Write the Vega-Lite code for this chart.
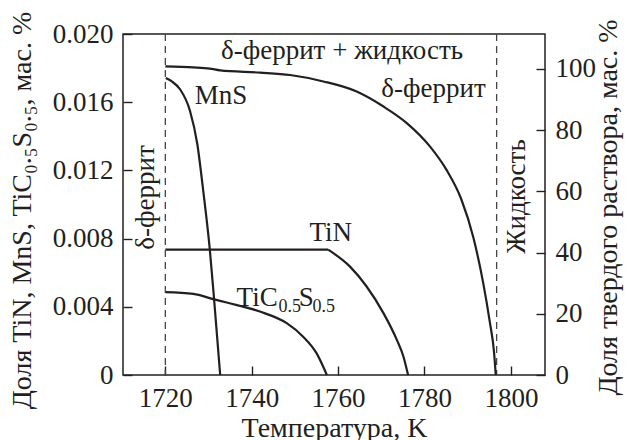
{
  "$schema": "https://vega.github.io/schema/vega-lite/v6.json",
  "width": 422,
  "height": 341,
  "autosize": "none",
  "padding": {"left": 123, "top": 34, "right": 82, "bottom": 65},
  "background": "white",
  "config": {
    "font": "'Liberation Serif', serif",
    "text": {"font": "'Liberation Serif', serif"},
    "view": {"stroke": "#231f20", "strokeWidth": 1.5},
    "axis": {
      "domain": false,
      "grid": false,
      "ticks": true,
      "zindex": 1,
      "tickColor": "#231f20",
      "tickWidth": 1.4,
      "tickSize": -9,
      "labelFont": "'Liberation Serif', serif",
      "labelFontSize": 27,
      "labelColor": "#231f20",
      "titleFont": "'Liberation Serif', serif",
      "titleFontSize": 28,
      "titleFontWeight": "normal",
      "titleColor": "#231f20"
    }
  },
  "datasets": {
    "curves": [
      {"series": "MnS", "T": 1720.1, "v": 0.01742},
      {"series": "MnS", "T": 1721.5, "v": 0.01722},
      {"series": "MnS", "T": 1723.4, "v": 0.01676},
      {"series": "MnS", "T": 1725.7, "v": 0.01550},
      {"series": "MnS", "T": 1727.4, "v": 0.01355},
      {"series": "MnS", "T": 1728.8, "v": 0.01075},
      {"series": "MnS", "T": 1730.3, "v": 0.00735},
      {"series": "MnS", "T": 1731.3, "v": 0.00441},
      {"series": "MnS", "T": 1732.7, "v": 0.0},
      {"series": "TiN flat", "T": 1720.0, "v": 0.00735},
      {"series": "TiN flat", "T": 1757.7, "v": 0.00735},
      {"series": "TiN", "T": 1757.7, "v": 0.00735},
      {"series": "TiN", "T": 1762.7, "v": 0.00637},
      {"series": "TiN", "T": 1766.6, "v": 0.00519},
      {"series": "TiN", "T": 1770.5, "v": 0.00363},
      {"series": "TiN", "T": 1773.6, "v": 0.00206},
      {"series": "TiN", "T": 1775.1, "v": 0.00110},
      {"series": "TiN", "T": 1776.2, "v": 0.0},
      {"series": "TiC", "T": 1720.0, "v": 0.00486},
      {"series": "TiC", "T": 1726.5, "v": 0.00476},
      {"series": "TiC", "T": 1731.1, "v": 0.00445},
      {"series": "TiC", "T": 1734.2, "v": 0.00425},
      {"series": "TiC", "T": 1741.9, "v": 0.00372},
      {"series": "TiC", "T": 1748.1, "v": 0.00304},
      {"series": "TiC", "T": 1751.9, "v": 0.00225},
      {"series": "TiC", "T": 1755.0, "v": 0.00128},
      {"series": "TiC", "T": 1757.4, "v": 0.0}
    ],
    "ferrite": [
      {"T": 1720.0, "p": 100.8},
      {"T": 1726.5, "p": 100.5},
      {"T": 1730.3, "p": 100.1},
      {"T": 1732.7, "p": 99.5},
      {"T": 1741.9, "p": 98.8},
      {"T": 1748.9, "p": 98.0},
      {"T": 1756.6, "p": 95.9},
      {"T": 1764.3, "p": 92.6},
      {"T": 1770.5, "p": 87.7},
      {"T": 1775.9, "p": 82.3},
      {"T": 1781.3, "p": 74.6},
      {"T": 1785.1, "p": 67.0},
      {"T": 1788.5, "p": 57.5},
      {"T": 1791.3, "p": 45.0},
      {"T": 1793.6, "p": 30.0},
      {"T": 1795.1, "p": 17.5},
      {"T": 1796.1, "p": 7.5},
      {"T": 1796.5, "p": 0.0}
    ]
  },
  "layer": [
    {
      "layer": [
        {
          "data": {"name": "curves"},
          "mark": {"type": "line", "color": "#231f20", "strokeWidth": 2.2, "interpolate": "monotone"},
          "encoding": {
            "x": {
              "field": "T", "type": "quantitative",
              "scale": {"domain": [1710.2, 1807.9], "nice": false, "zero": false},
              "axis": {
                "values": [1720, 1740, 1760, 1780, 1800],
                "format": "d",
                "title": "Температура, K",
                "labelPadding": 19,
                "titleX": 211,
                "titleY": 53,
                "titleBaseline": "middle",
                "titleAlign": "center"
              }
            },
            "y": {
              "field": "v", "type": "quantitative",
              "scale": {"domain": [0, 0.02], "nice": false},
              "axis": {
                "orient": "left",
                "values": [0, 0.004, 0.008, 0.012, 0.016, 0.02],
                "labelExpr": "datum.value == 0 ? '0' : format(datum.value, '.3f')",
                "labelPadding": 19,
                "title": "Доля TiN, MnS, TiC₀.₅S₀.₅, мас. %",
                "titleAngle": -90,
                "titleX": -101,
                "titleY": 176,
                "titleAlign": "center",
                "titleBaseline": "middle"
              }
            },
            "detail": {"field": "series"}
          }
        },
        {
          "data": {"values": [{}]},
          "mark": {"type": "rule", "color": "#444444", "strokeWidth": 1.3, "strokeDash": [7, 5]},
          "encoding": {"x": {"datum": 1720, "type": "quantitative"}}
        },
        {
          "data": {"values": [{}]},
          "mark": {"type": "rule", "color": "#444444", "strokeWidth": 1.3, "strokeDash": [7, 5]},
          "encoding": {"x": {"datum": 1796.7, "type": "quantitative"}}
        },
        {
          "data": {"values": [{}]},
          "mark": {"type": "text", "fontSize": 27, "color": "#231f20", "align": "center", "baseline": "middle"},
          "encoding": {"x": {"datum": 1760.9, "type": "quantitative"}, "y": {"datum": 0.0190, "type": "quantitative"}, "text": {"value": "δ-феррит + жидкость"}}
        },
        {
          "data": {"values": [{}]},
          "mark": {"type": "text", "fontSize": 27, "color": "#231f20", "align": "center", "baseline": "middle"},
          "encoding": {"x": {"datum": 1782.1, "type": "quantitative"}, "y": {"datum": 0.01676, "type": "quantitative"}, "text": {"value": "δ-феррит"}}
        },
        {
          "data": {"values": [{}]},
          "mark": {"type": "text", "fontSize": 27, "color": "#231f20", "align": "center", "baseline": "middle"},
          "encoding": {"x": {"datum": 1732.9, "type": "quantitative"}, "y": {"datum": 0.01635, "type": "quantitative"}, "text": {"value": "MnS"}}
        },
        {
          "data": {"values": [{}]},
          "mark": {"type": "text", "fontSize": 27, "color": "#231f20", "align": "center", "baseline": "middle"},
          "encoding": {"x": {"datum": 1758.3, "type": "quantitative"}, "y": {"datum": 0.00835, "type": "quantitative"}, "text": {"value": "TiN"}}
        },
        {
          "data": {"values": [{}]},
          "mark": {"type": "text", "fontSize": 27, "color": "#231f20", "align": "left", "baseline": "alphabetic"},
          "encoding": {"x": {"datum": 1736.5, "type": "quantitative"}, "y": {"datum": 0.00406, "type": "quantitative"}, "text": {"value": "TiC"}}
        },
        {
          "data": {"values": [{}]},
          "mark": {"type": "text", "fontSize": 18, "color": "#231f20", "align": "left", "baseline": "alphabetic"},
          "encoding": {"x": {"datum": 1746.2, "type": "quantitative"}, "y": {"datum": 0.00371, "type": "quantitative"}, "text": {"value": "0.5"}}
        },
        {
          "data": {"values": [{}]},
          "mark": {"type": "text", "fontSize": 27, "color": "#231f20", "align": "left", "baseline": "alphabetic"},
          "encoding": {"x": {"datum": 1750.9, "type": "quantitative"}, "y": {"datum": 0.00406, "type": "quantitative"}, "text": {"value": "S"}}
        },
        {
          "data": {"values": [{}]},
          "mark": {"type": "text", "fontSize": 18, "color": "#231f20", "align": "left", "baseline": "alphabetic"},
          "encoding": {"x": {"datum": 1754.1, "type": "quantitative"}, "y": {"datum": 0.00371, "type": "quantitative"}, "text": {"value": "0.5"}}
        },
        {
          "data": {"values": [{}]},
          "mark": {"type": "text", "fontSize": 27, "color": "#231f20", "align": "center", "baseline": "middle", "angle": 270},
          "encoding": {"x": {"datum": 1715.5, "type": "quantitative"}, "y": {"datum": 0.01041, "type": "quantitative"}, "text": {"value": "δ-феррит"}}
        },
        {
          "data": {"values": [{}]},
          "mark": {"type": "text", "fontSize": 27, "color": "#231f20", "align": "center", "baseline": "middle", "angle": 270},
          "encoding": {"x": {"datum": 1801.4, "type": "quantitative"}, "y": {"datum": 0.01047, "type": "quantitative"}, "text": {"value": "Жидкость"}}
        }
      ]
    },
    {
      "data": {"name": "ferrite"},
      "mark": {"type": "line", "color": "#231f20", "strokeWidth": 2.2, "interpolate": "monotone"},
      "encoding": {
        "x": {"field": "T", "type": "quantitative"},
        "y": {
          "field": "p", "type": "quantitative",
          "scale": {"domain": [0, 111.4], "nice": false},
          "axis": {
            "orient": "right",
            "values": [0, 20, 40, 60, 80, 100],
            "format": "d",
            "labelPadding": 19,
            "title": "Доля твердого раствора, мас. %",
            "titleAngle": -90,
            "titleX": 63,
            "titleY": 173,
            "titleAlign": "center",
            "titleBaseline": "middle"
          }
        }
      }
    }
  ],
  "resolve": {"scale": {"y": "independent"}, "axis": {"y": "independent"}}
}
